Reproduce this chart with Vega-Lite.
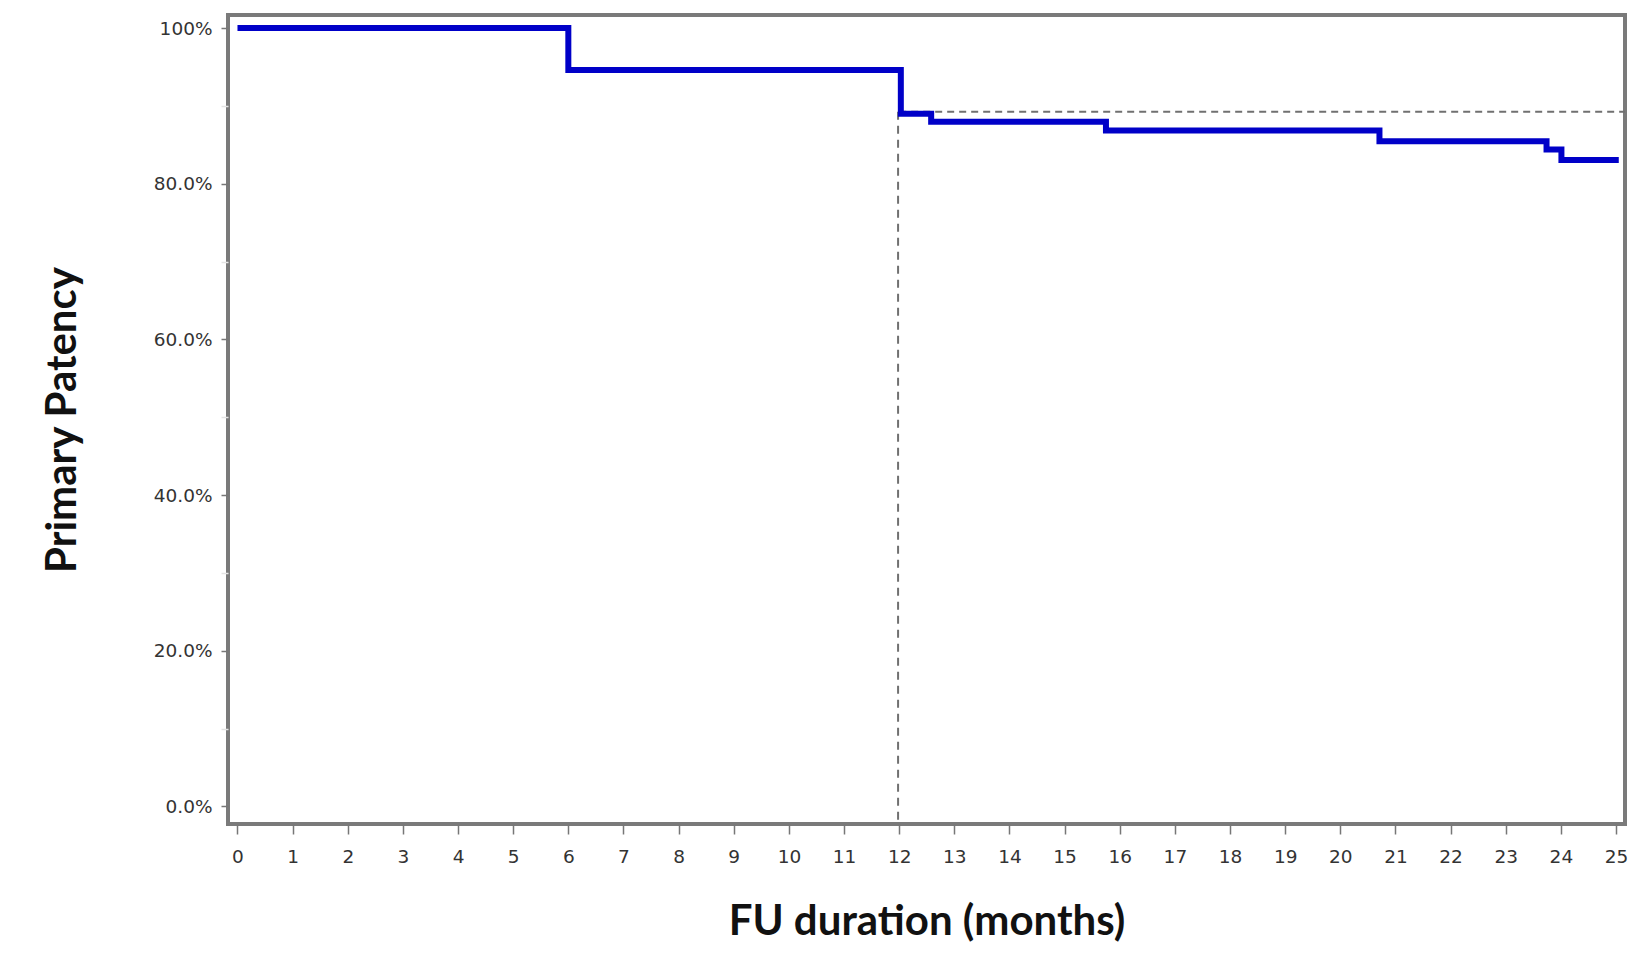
{
  "$schema": "https://vega.github.io/schema/vega-lite/v6.json",
  "width": 1397,
  "height": 809,
  "autosize": "none",
  "padding": {"left": 228, "top": 15, "right": 20, "bottom": 138},
  "background": "white",
  "config": {
    "view": {"stroke": "#7a7a7a", "strokeWidth": 4},
    "axis": {"domain": false, "grid": false}
  },
  "encoding": {
    "x": {
      "field": "month",
      "type": "quantitative",
      "scale": {"domain": [-0.172, 25.163], "nice": false, "zero": false},
      "axis": {
        "title": "FU duration (months)",
        "values": [0,1,2,3,4,5,6,7,8,9,10,11,12,13,14,15,16,17,18,19,20,21,22,23,24,25],
        "format": "d",
        "labelFlush": false,
        "labelOverlap": false,
        "labelFont": "DejaVu Sans",
        "labelFontSize": 18.5,
        "labelColor": "#333333",
        "labelPadding": 13,
        "tickColor": "#777777",
        "tickSize": 10,
        "tickWidth": 1.5,
        "titleFont": "Lato",
        "titleFontSize": 42,
        "titleFontWeight": "bold",
        "titleColor": "#111111",
        "titlePadding": 36
      }
    },
    "y": {
      "field": "patency",
      "type": "quantitative",
      "scale": {"domain": [-2.25, 101.67], "nice": false, "zero": false},
      "axis": {
        "title": "Primary Patency",
        "values": [0,10,20,30,40,50,60,70,80,90,100],
        "labelExpr": "datum.value % 20 != 0 ? '' : (datum.value == 100 ? '100%' : format(datum.value, '.1f') + '%')",
        "labelFont": "DejaVu Sans",
        "labelFontSize": 18.5,
        "labelColor": "#333333",
        "labelPadding": 9,
        "tickColor": {"condition": {"test": "datum.value % 20 != 0", "value": "#e4e4e4"}, "value": "#777777"},
        "tickSize": 7,
        "tickWidth": 1.5,
        "titleFont": "Lato",
        "titleFontSize": 42,
        "titleFontWeight": "bold",
        "titleColor": "#111111",
        "titlePadding": 69
      }
    }
  },
  "layer": [
    {
      "data": {"values": [{"month": 12, "month_end": 25.163, "patency": 89.25}]},
      "mark": {"type": "rule", "color": "#707070", "strokeWidth": 2, "strokeDash": [7, 5]},
      "encoding": {"x2": {"field": "month_end"}}
    },
    {
      "data": {"values": [{"month": 11.98, "patency": 89.25, "patency_end": -2.25}]},
      "mark": {"type": "rule", "color": "#707070", "strokeWidth": 2, "strokeDash": [8, 6]},
      "encoding": {"y2": {"field": "patency_end"}}
    },
    {
      "data": {"values": [
        {"month": 0, "patency": 100},
        {"month": 6.0, "patency": 94.6},
        {"month": 12.03, "patency": 89.0},
        {"month": 12.58, "patency": 87.97},
        {"month": 15.75, "patency": 86.82},
        {"month": 20.71, "patency": 85.44},
        {"month": 23.74, "patency": 84.38},
        {"month": 24.01, "patency": 83.05},
        {"month": 25.05, "patency": 83.05}
      ]},
      "mark": {"type": "line", "interpolate": "step-after", "color": "#0000c8", "strokeWidth": 6}
    }
  ]
}
